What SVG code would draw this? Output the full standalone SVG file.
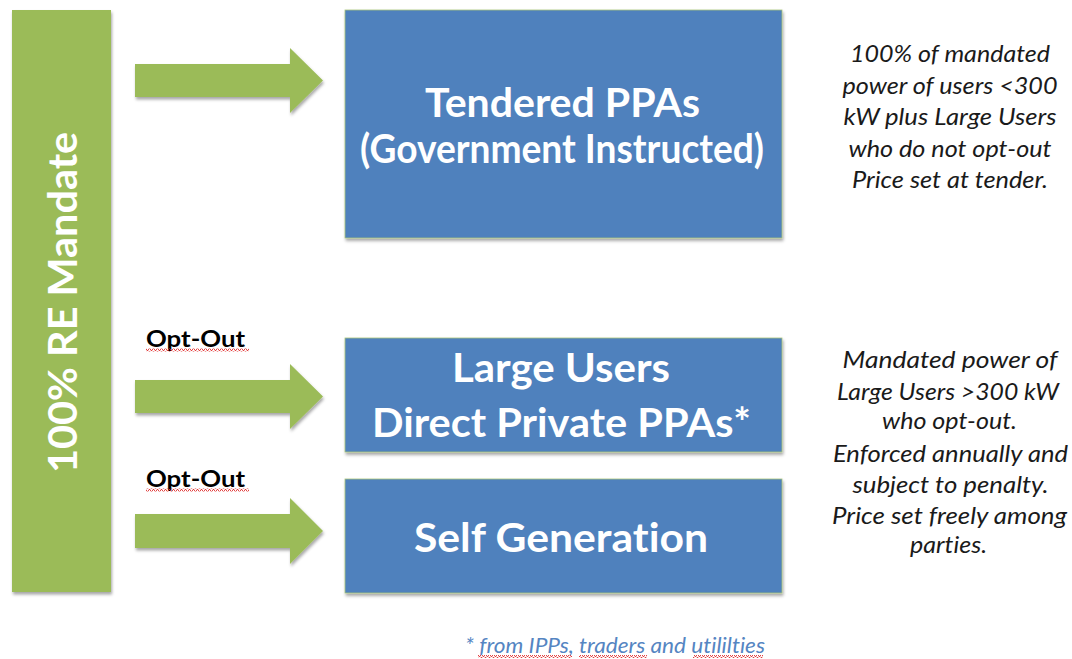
<svg xmlns="http://www.w3.org/2000/svg" width="1072" height="659" viewBox="0 0 1072 659">
  <defs>
    <filter id="shadow" x="-10%" y="-10%" width="130%" height="130%">
      <feDropShadow dx="1" dy="2.5" stdDeviation="1.5" flood-color="#000" flood-opacity="0.35"/>
    </filter>
    <!-- spell-check style wavy underline -->
    <pattern id="squiggle" width="4" height="3" patternUnits="userSpaceOnUse">
      <polyline points="0,2.5 1,0.5 2,0.5 3,2.5 4,2.5" fill="none" stroke="#e03030" stroke-width="0.9"/>
    </pattern>
  </defs>
  <style>
    text { font-variant-ligatures: none; }
    .green { fill: #9BBB59; }
    .blue { fill: #4F81BD; stroke: #a9c37a; stroke-width: 0.8; }
    .boxtext { font-family: Lato, "Open Sans", sans-serif; font-weight: bold; font-size: 41px; fill: #ffffff; text-anchor: middle; }
    .label { font-family: Lato, "Open Sans", sans-serif; font-weight: bold; font-size: 23px; fill: #000000; }
    .note { font-family: Lato, "Open Sans", sans-serif; font-style: italic; font-size: 24px; fill: #1a1a1a; text-anchor: middle; }
    .foot { font-family: Lato, "Open Sans", sans-serif; font-style: italic; font-size: 21px; fill: #5585C2; }
  </style>
  <rect width="1072" height="659" fill="#ffffff"/>

  <!-- mandate bar -->
  <g id="mandate">
    <rect x="12" y="10" width="99" height="582" class="green" filter="url(#shadow)"/>
    <text class="boxtext" transform="translate(77,302.5) rotate(-90)" textLength="341" lengthAdjust="spacingAndGlyphs">100% RE Mandate</text>
  </g>

  <!-- arrows from the mandate to each procurement route -->
  <g id="connectors" class="green" filter="url(#shadow)">
    <path d="M135,64 H290 V48 L323,80.5 L290,113 V97 H135 Z"/>
    <path d="M135,380 H290 V364 L323,396.5 L290,429 V413 H135 Z"/>
    <path d="M135,514 H290 V498 L323,531 L290,564 V548 H135 Z"/>
  </g>

  <g id="optout-labels">
    <text class="label" x="146" y="347" textLength="99" lengthAdjust="spacingAndGlyphs">Opt-Out</text>
    <rect x="146" y="348.5" width="103" height="3" fill="url(#squiggle)"/>
    <text class="label" x="146" y="487" textLength="99" lengthAdjust="spacingAndGlyphs">Opt-Out</text>
    <rect x="146" y="488.5" width="103" height="3" fill="url(#squiggle)"/>
  </g>

  <g id="tendered">
    <rect x="345" y="10" width="437" height="228" class="blue" filter="url(#shadow)"/>
    <text class="boxtext" x="562.5" y="117" textLength="275" lengthAdjust="spacingAndGlyphs">Tendered PPAs</text>
    <text class="boxtext" x="562" y="163" textLength="404" lengthAdjust="spacingAndGlyphs">(Government Instructed)</text>
  </g>

  <g id="private">
    <rect x="345" y="338" width="437" height="114" class="blue" filter="url(#shadow)"/>
    <text class="boxtext" x="561" y="382" textLength="218" lengthAdjust="spacingAndGlyphs">Large Users</text>
    <text class="boxtext" x="561.5" y="437" textLength="379" lengthAdjust="spacingAndGlyphs">Direct Private PPAs*</text>
  </g>

  <g id="selfgen">
    <rect x="345" y="479" width="437" height="114" class="blue" filter="url(#shadow)"/>
    <text class="boxtext" x="561" y="552" textLength="294" lengthAdjust="spacingAndGlyphs">Self Generation</text>
  </g>

  <g id="note-tendered">
    <text class="note" x="950" y="62" textLength="200" lengthAdjust="spacingAndGlyphs">100% of mandated</text>
    <text class="note" x="950" y="94" textLength="215" lengthAdjust="spacingAndGlyphs">power of users &lt;300</text>
    <text class="note" x="950" y="125" textLength="213" lengthAdjust="spacingAndGlyphs">kW plus Large Users</text>
    <text class="note" x="950" y="157" textLength="203" lengthAdjust="spacingAndGlyphs">who do not opt-out</text>
    <text class="note" x="950" y="188" textLength="196" lengthAdjust="spacingAndGlyphs">Price set at tender.</text>
  </g>

  <g id="note-optout">
    <text class="note" x="950" y="368" textLength="215" lengthAdjust="spacingAndGlyphs">Mandated power of</text>
    <text class="note" x="948" y="400" textLength="222" lengthAdjust="spacingAndGlyphs">Large Users &gt;300 kW</text>
    <text class="note" x="949.5" y="429" textLength="135" lengthAdjust="spacingAndGlyphs">who opt-out.</text>
    <text class="note" x="950.5" y="462" textLength="235" lengthAdjust="spacingAndGlyphs">Enforced annually and</text>
    <text class="note" x="950.5" y="493" textLength="196" lengthAdjust="spacingAndGlyphs">subject to penalty.</text>
    <text class="note" x="949.5" y="524" textLength="235" lengthAdjust="spacingAndGlyphs">Price set freely among</text>
    <text class="note" x="948.5" y="553" textLength="77" lengthAdjust="spacingAndGlyphs">parties.</text>
  </g>

  <g id="footnote">
    <text class="foot" x="465" y="653" textLength="300" lengthAdjust="spacingAndGlyphs">* from IPPs, traders and utililties</text>
    <rect x="478" y="655" width="94" height="3" fill="url(#squiggle)"/>
    <rect x="579" y="655" width="68" height="3" fill="url(#squiggle)"/>
    <rect x="693" y="655" width="70" height="3" fill="url(#squiggle)"/>
  </g>
</svg>
